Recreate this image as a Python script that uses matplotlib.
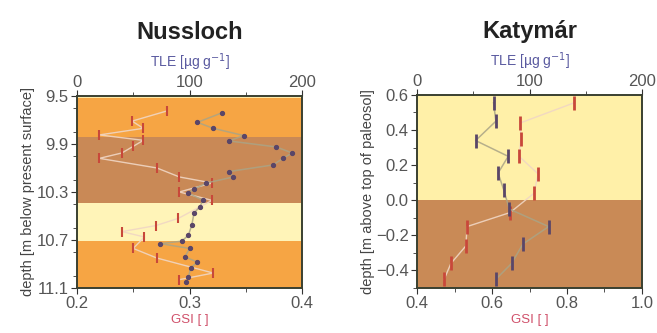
import numpy as np
import matplotlib
matplotlib.use("Agg")
import matplotlib.pyplot as plt
from matplotlib.ticker import MultipleLocator

plt.rcParams['font.family'] = ['Liberation Sans', 'DejaVu Sans']

# ---- Nussloch (depth in m below present surface)
nus_gsi_depth = [9.625, 9.71, 9.77, 9.825, 9.87, 9.92, 9.975, 10.02, 10.10, 10.175,
                 10.225, 10.30, 10.37, 10.52, 10.58, 10.63, 10.675, 10.77, 10.85, 10.975, 11.03]
nus_gsi = [0.280, 0.249, 0.259, 0.220, 0.259, 0.250, 0.240, 0.220, 0.271, 0.291,
           0.320, 0.291, 0.320, 0.290, 0.270, 0.240, 0.260, 0.250, 0.271, 0.321, 0.291]
nus_tle_depth = [9.64, 9.72, 9.77, 9.83, 9.875, 9.925, 9.975, 10.02, 10.075, 10.13, 10.175,
                 10.225, 10.275, 10.31, 10.37, 10.425, 10.475, 10.575, 10.66, 10.71, 10.73,
                 10.77, 10.84, 10.885, 10.93, 11.01, 11.05]
nus_tle = [129, 107, 121, 148, 135, 177, 191, 183, 174, 135, 139,
           115, 104, 99, 112, 109, 104, 102, 99, 93, 74,
           100, 96, 107, 101, 99, 97]
# soil horizons (top, bottom, colour)
nus_bands = [(9.5, 9.52, '#ffe9a6'), (9.52, 9.84, '#f6a544'), (9.84, 10.39, '#c98956'),
             (10.39, 10.71, '#fff4b8'), (10.71, 11.1, '#f6a544')]

# ---- Katymar (depth in m above top of paleosol)
kat_gsi_depth = [0.555, 0.44, 0.35, 0.25, 0.15, 0.04, -0.07, -0.15, -0.26, -0.36, -0.45]
kat_gsi = [0.819, 0.675, 0.677, 0.672, 0.723, 0.712, 0.648, 0.533, 0.530, 0.490, 0.472]
kat_tle_depth = [0.555, 0.45, 0.34, 0.25, 0.155, 0.06, -0.05, -0.15, -0.25, -0.36, -0.45]
kat_tle = [68, 70, 52, 81, 72, 77, 82, 117, 94, 84, 70]
kat_bands = [(0.6, 0.0, '#fff0a8'), (0.0, -0.5, '#c98a56')]

gsi_col = '#c8483a'
tle_col = '#5a4668'


def panel(rect, title, ylabel, gsi_d, gsi, tle_d, tle, bands, ylim, xlim,
          yticks, ymin, xticks, xmin, big):
    ax = fig.add_axes(rect)
    for top, bot, c in bands:
        ax.axhspan(top, bot, color=c, lw=0, zorder=0)
    ax.set_ylim(*ylim)
    ax.set_xlim(*xlim)
    ax.plot(gsi, gsi_d, '-', color='#f0d6c4', lw=1.0, alpha=0.9, zorder=2)
    ax.plot(gsi, gsi_d, '|', color=gsi_col, ms=10 if big else 7,
            mew=2 if big else 1.5, zorder=4)
    ax.set_yticks(yticks)
    ax.yaxis.set_minor_locator(MultipleLocator(ymin))
    ax.set_xticks(xticks)
    ax.xaxis.set_minor_locator(MultipleLocator(xmin))
    ax.tick_params(labelsize=12, colors='#333333', labelcolor='#555555', length=4, pad=2)
    ax.tick_params(which='minor', length=3, colors='#333333')
    ax.set_ylabel(ylabel, fontsize=10.5, color='#444444', labelpad=1)
    ax.set_xlabel('GSI [ ]', fontsize=9.5, color='#d0506a', labelpad=2)

    at = ax.twiny()
    at.set_xlim(0, 200)
    at.plot(tle, tle_d, '-', color='#aaa486', lw=1.1, alpha=0.85, zorder=3)
    if big:
        at.plot(tle, tle_d, '|', color=tle_col, ms=10, mew=2, zorder=5)
    else:
        at.plot(tle, tle_d, 'o', color=tle_col, ms=2.8, zorder=5)
    at.set_xticks([0, 100, 200])
    at.xaxis.set_minor_locator(MultipleLocator(50))
    at.tick_params(labelsize=12, colors='#333333', labelcolor='#555555', length=4, pad=0)
    at.tick_params(which='minor', length=3, colors='#333333')
    at.set_xlabel('TLE [µg g$^{-1}$]', fontsize=10, color='#5a5aa0', labelpad=6)
    for a in (ax, at):
        for s in a.spines.values():
            s.set_color('#3a4030')
            s.set_linewidth(1.2)
    at.set_title(title, fontsize=17, fontweight='bold', color='#222222', pad=9)
    return ax


fig = plt.figure(figsize=(6.57, 3.33), dpi=100)

panel([0.117, 0.135, 0.343, 0.577], 'Nussloch', 'depth [m below present surface]',
      nus_gsi_depth, nus_gsi, nus_tle_depth, nus_tle, nus_bands,
      (11.1, 9.5), (0.2, 0.4), [9.5, 9.9, 10.3, 10.7, 11.1], 0.2,
      [0.2, 0.3, 0.4], 0.05, False)

panel([0.635, 0.135, 0.342, 0.58], 'Katymár', 'depth [m above top of paleosol]',
      kat_gsi_depth, kat_gsi, kat_tle_depth, kat_tle, kat_bands,
      (-0.5, 0.6), (0.4, 1.0), [0.6, 0.4, 0.2, 0.0, -0.2, -0.4], 0.1,
      [0.4, 0.6, 0.8, 1.0], 0.1, True)

fig.savefig('out.png', dpi=100)
